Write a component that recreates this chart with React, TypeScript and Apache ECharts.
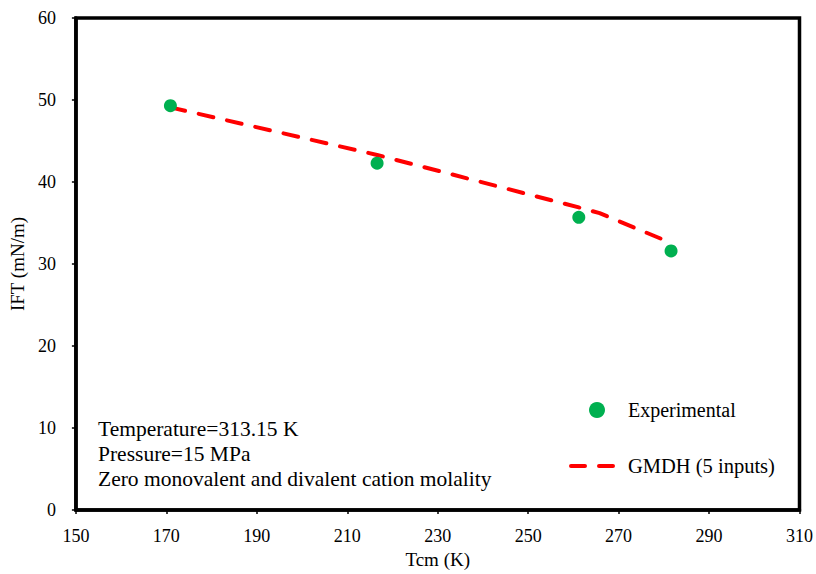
import React, { useEffect, useRef } from "react";
import * as echarts from "echarts";

const expTcm = [170.9, 216.6, 261.2, 281.6];
const expIFT = [49.3, 42.3, 35.7, 31.6];
const gmdhTcm = [170.9, 216.6, 261.2, 265.8, 281.9];
const gmdhIFT = [49.1, 43.3, 36.9, 36.2, 32.5];
const notes = ["Temperature=313.15 K", "Pressure=15 MPa", "Zero monovalent and divalent cation molality"];
const legendNames = ["Experimental", "GMDH (5 inputs)"];

const FONT = "'Liberation Serif', 'Times New Roman', serif";

export default function App() {
  const ref = useRef<HTMLDivElement>(null);
  useEffect(() => {
    const chart = echarts.init(ref.current!, null, { renderer: "svg" });
    const textStyle = { fontFamily: FONT, fontSize: 18, fill: "#000" };
    chart.setOption({
      animation: false,
      textStyle: { fontFamily: FONT },
      grid: { left: 72, top: 18, right: 16, bottom: 60, show: true, borderColor: "#000", borderWidth: 3.5 },
      xAxis: {
        type: "value",
        min: 150,
        max: 310,
        interval: 20,
        name: "Tcm (K)",
        nameLocation: "middle",
        nameGap: 40,
        nameTextStyle: { fontFamily: FONT, fontSize: 19, color: "#000" },
        axisLine: { show: true, lineStyle: { color: "#000", width: 3.5 } },
        axisTick: { show: true, inside: false, length: 4, lineStyle: { color: "#000", width: 1.5 } },
        axisLabel: { fontFamily: FONT, fontSize: 18, color: "#000", margin: 17 },
        splitLine: { show: false },
      },
      yAxis: {
        type: "value",
        min: 0,
        max: 60,
        interval: 10,
        name: "IFT (mN/m)",
        nameLocation: "middle",
        nameGap: 43,
        nameTextStyle: { fontFamily: FONT, fontSize: 19, color: "#000" },
        axisLine: { show: true, lineStyle: { color: "#000", width: 3.5 } },
        axisTick: { show: true, inside: false, length: 4, lineStyle: { color: "#000", width: 1.5 } },
        axisLabel: { fontFamily: FONT, fontSize: 18, color: "#000", margin: 20 },
        splitLine: { show: false },
      },
      series: [
        {
          name: legendNames[1],
          type: "line",
          data: gmdhTcm.map((x, i) => [x, gmdhIFT[i]]),
          showSymbol: false,
          symbol: "none",
          lineStyle: { color: "#FF0000", width: 4, type: [15, 14], cap: "round" },
          z: 2,
        },
        {
          name: legendNames[0],
          type: "scatter",
          data: expTcm.map((x, i) => [x, expIFT[i]]),
          symbol: "circle",
          symbolSize: 13,
          itemStyle: { color: "#00B050", opacity: 1 },
          z: 3,
        },
      ],
      graphic: [
        ...notes.map((t, i) => ({
          type: "text",
          left: 98,
          top: 418 + i * 25,
          style: { ...textStyle, text: t, fontSize: 21.5 },
        })),
        { type: "circle", shape: { cx: 597, cy: 410, r: 8 }, style: { fill: "#00B050" } },
        { type: "text", left: 628, top: 400, style: { ...textStyle, text: legendNames[0], fontSize: 20 } },
        {
          type: "line",
          shape: { x1: 571, y1: 466, x2: 614, y2: 466 },
          style: { stroke: "#FF0000", lineWidth: 4, lineDash: [14, 14], lineCap: "round" },
        },
        { type: "text", left: 628, top: 455, style: { ...textStyle, text: legendNames[1], fontSize: 20.5 } },
      ],
    });
    return () => chart.dispose();
  }, []);
  return (
    <div
      ref={ref}
      style={{ position: "fixed", left: 0, top: 0, width: 816, height: 574, background: "#fff" }}
    />
  );
}
